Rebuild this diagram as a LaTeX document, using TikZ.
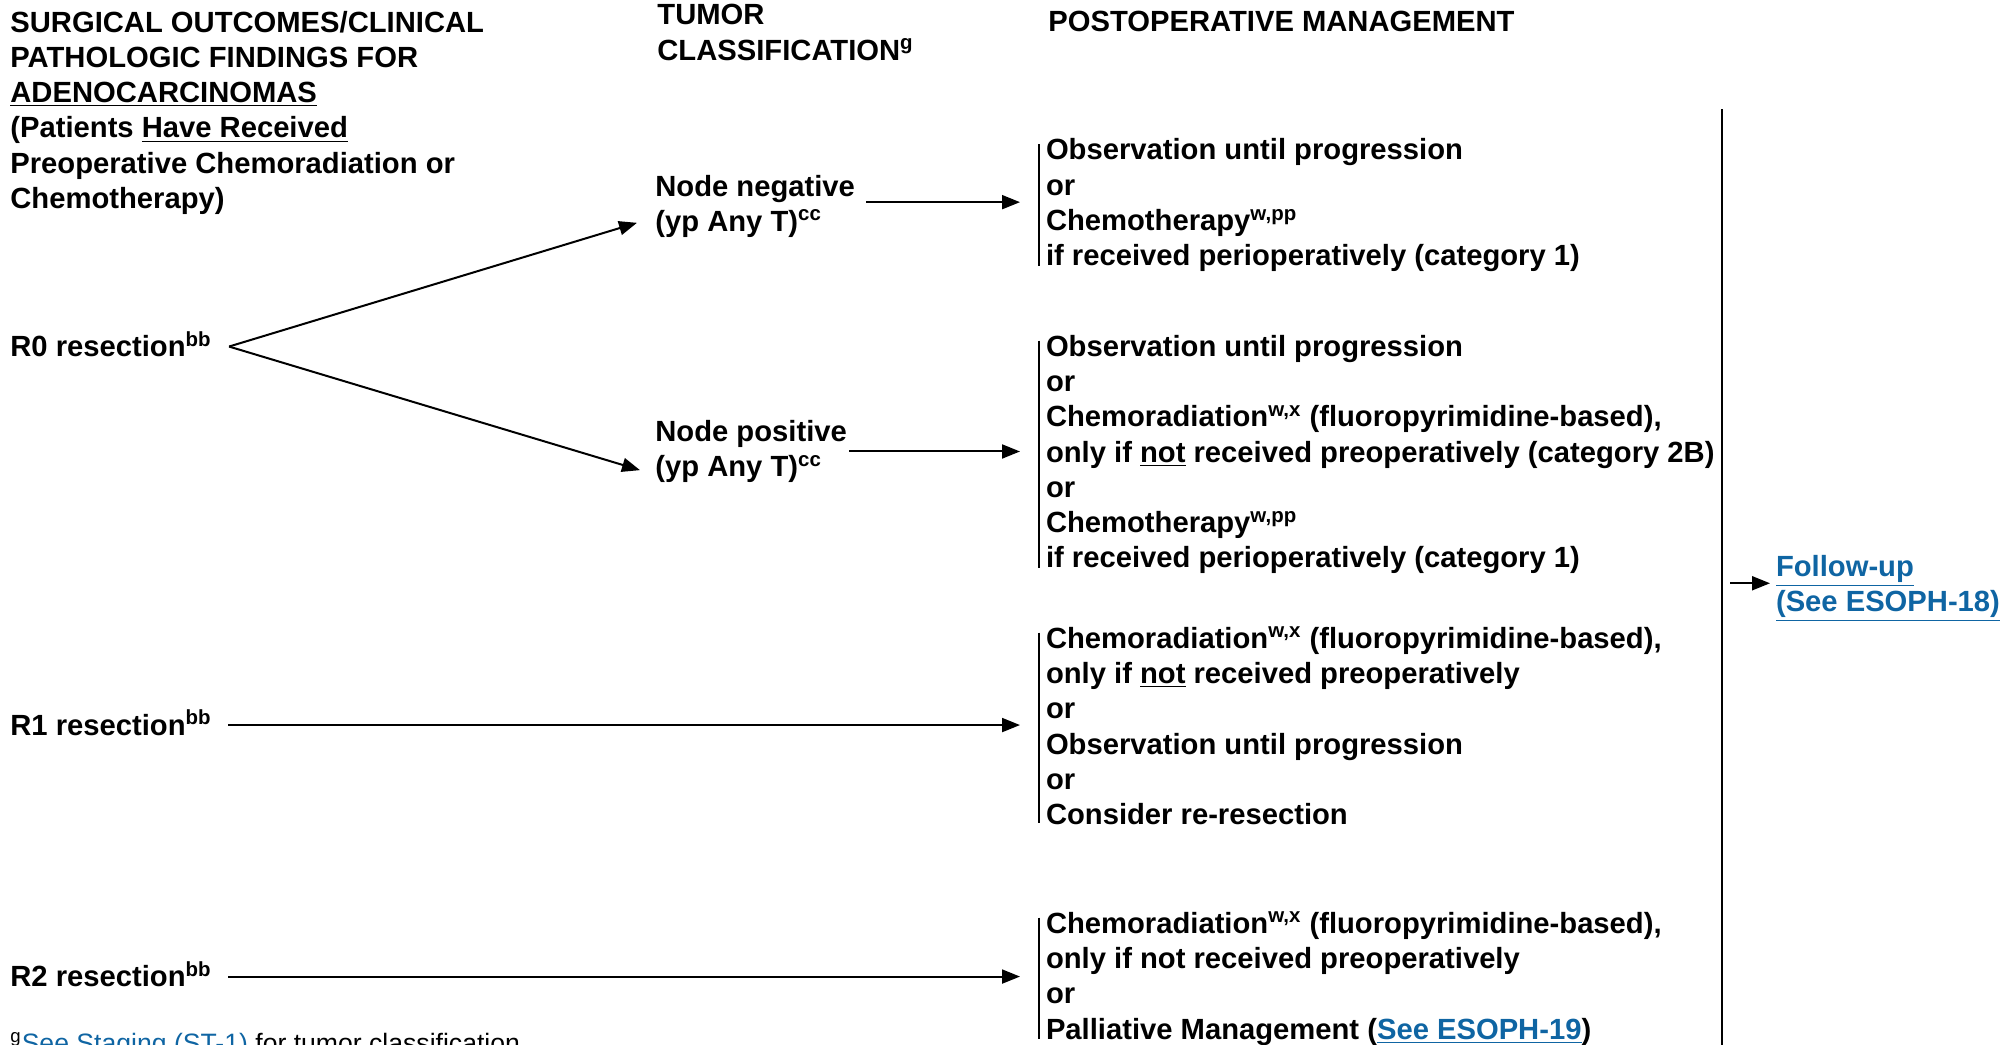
\documentclass[tikz,border=0pt]{standalone}
\usepackage{fontspec}
\setmainfont{Liberation Sans}
\usepackage{tikz}
\usetikzlibrary{arrows.meta, positioning}
\usepackage{xcolor}
\definecolor{LinkBlue}{HTML}{0F65A3}
\newcommand{\flowfont}{\fontsize{14.6}{17.65}\selectfont\bfseries}
\newcommand{\footfont}{\fontsize{13.3}{16}\selectfont}
\newcommand{\firststrut}{\rule{0pt}{13pt}}
\tikzset{
    txt/.style={anchor=north west, inner sep=0pt, align=left, font=\flowfont, execute at begin node=\firststrut},
    mgmt/.style={txt, outer xsep=13pt, outer ysep=0pt},
    link/.style={txt, text=LinkBlue, outer xsep=3pt, outer ysep=0pt},
    note/.style={txt, font=\footfont},
    arr/.style={-{Triangle[length=9pt, width=7pt]}, line width=1pt, draw=black},
    bar/.style={line width=1pt, draw=black},
}

\begin{document}
\begin{tikzpicture}[x=0.5pt, y=-0.5pt]
\useasboundingbox (0,0) rectangle (2011,1044);

% Column headers
\node[txt] (hdr_l) at (10,10.5) {SURGICAL OUTCOMES/CLINICAL\\PATHOLOGIC FINDINGS FOR\\\underline{ADENOCARCINOMAS}\\(Patients \underline{Have Received}\\Preoperative Chemoradiation or\\Chemotherapy)};
\node[txt] (hdr_t) at (657,4) {TUMOR\\CLASSIFICATION\textsuperscript{g}};
\node[txt] (hdr_p) at (1048,5) {POSTOPERATIVE MANAGEMENT};

% Resection outcomes
\node[txt] (r0) at (10,330.5) {R0 resection\textsuperscript{bb}};
\node[txt] (r1) at (10,709) {R1 resection\textsuperscript{bb}};
\node[txt] (r2) at (10,960.5) {R2 resection\textsuperscript{bb}};

% Tumor classification
\node[txt] (nneg) at (655,174.5) {Node negative\\(yp Any T)\textsuperscript{cc}};
\node[txt, below=91pt of nneg.south west, anchor=north west] (npos) {Node positive\\(yp Any T)\textsuperscript{cc}};

% Postoperative management
\node[mgmt] (b1) at (1020,138.8) {Observation until progression\\or\\Chemotherapy\textsuperscript{w,pp}\\if received perioperatively (category 1)};
\node[mgmt] (b2) at (1020,335) {Observation until progression\\or\\Chemoradiation\textsuperscript{w,x} (fluoropyrimidine-based),\\only if \underline{not} received preoperatively (category 2B)\\or\\Chemotherapy\textsuperscript{w,pp}\\if received perioperatively (category 1)};
\node[mgmt] (b3) at (1020,627) {Chemoradiation\textsuperscript{w,x} (fluoropyrimidine-based),\\only if \underline{not} received preoperatively\\or\\Observation until progression\\or\\Consider re-resection};
\node[mgmt] (b4) at (1020,912) {Chemoradiation\textsuperscript{w,x} (fluoropyrimidine-based),\\only if not received preoperatively\\or\\Palliative Management ({\color{LinkBlue}\underline{See ESOPH-19}})};

% Follow-up
\coordinate (vtop) at (1722,109);
\coordinate (vbot) at (1722,1050);
\node[link] (fup) at (1770,555.5) {\underline{Follow-up}\\\underline{(See ESOPH-18)}};

% Footnote
\node[note] (foot) at (10,1026.5) {\textsuperscript{g}{\color{LinkBlue}See Staging (ST-1)} for tumor classification};

% Brackets
\draw[bar] ([xshift=9.5pt,yshift=-2.75pt]b1.north west) -- ([xshift=9.5pt,yshift=3.25pt]b1.south west);
\draw[bar] ([xshift=9.5pt,yshift=-2.75pt]b2.north west) -- ([xshift=9.5pt,yshift=3.25pt]b2.south west);
\draw[bar] ([xshift=9.5pt,yshift=-2.75pt]b3.north west) -- ([xshift=9.5pt,yshift=1pt]b3.south west);
\draw[bar] ([xshift=9.5pt,yshift=-2.75pt]b4.north west) -- ([xshift=9.5pt,yshift=3.25pt]b4.south west);
\draw[bar] (vtop) -- (vbot);

% Arrows
\coordinate (r0split) at ([xshift=8.5pt,yshift=-1.25pt]r0.east);
\draw[arr] (r0split) -- ([xshift=-9pt,yshift=7.5pt]nneg.south west);
\draw[arr] (r0split) -- ([xshift=-7.5pt,yshift=6.5pt]npos.south west);
\draw[arr, shorten <=5.5pt] ([yshift=2pt]nneg.east) -- ([yshift=2pt]nneg.east -| b1.west);
\draw[arr, shorten <=1pt] (npos.east) -- (npos.east -| b2.west);
\draw[arr, shorten <=8pt] ([yshift=-1.25pt]r1.east) -- ([yshift=-1.25pt]r1.east -| b3.west);
\draw[arr, shorten <=8pt] ([yshift=-1.25pt]r2.east) -- ([yshift=-1.25pt]r2.east -| b4.west);
\draw[arr, shorten <=4pt] ([yshift=2.75pt]fup.west -| vtop) -- ([yshift=2.75pt]fup.west);

\end{tikzpicture}
\end{document}
